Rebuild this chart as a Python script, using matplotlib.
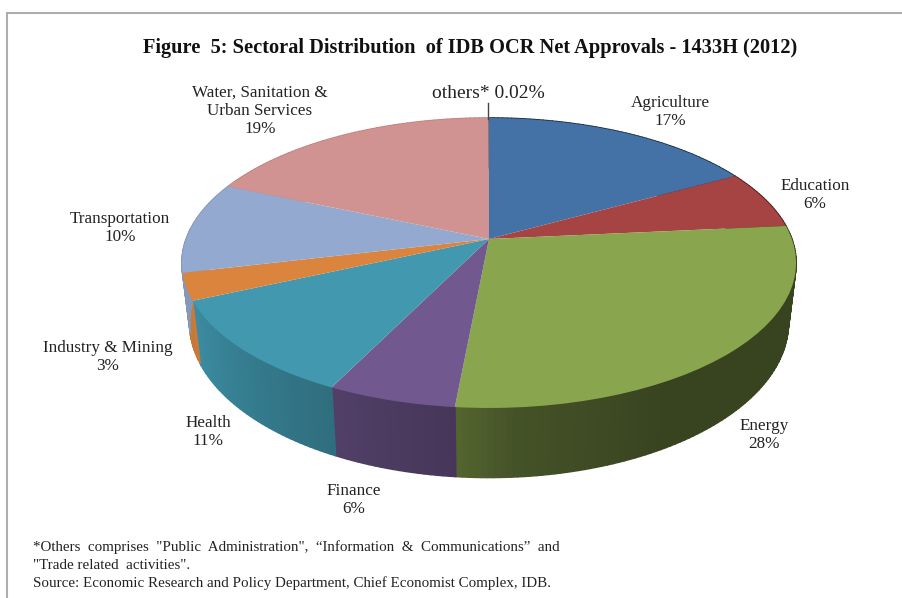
import numpy as np
import matplotlib
matplotlib.use("Agg")
import matplotlib.pyplot as plt
from matplotlib.transforms import Transform
from matplotlib.collections import PolyCollection
from matplotlib.colors import to_rgb

plt.rcParams['font.family'] = ['Liberation Serif', 'DejaVu Serif']

sectors = ["Agriculture", "Education", "Energy", "Finance", "Health",
           "Industry & Mining", "Transportation", "Water, Sanitation &\nUrban Services", "others*"]
shares = [17.0, 6.5, 28.0, 5.8, 11.0, 3.0, 10.2, 18.48, 0.02]
share_labels = ["17%", "6%", "28%", "6%", "11%", "3%", "10%", "19%", "0.02%"]
colors = ["#4472a6", "#a54442", "#89a54e", "#71588f", "#4198af",
          "#db843d", "#93a9cf", "#d19392", "#555555"]
title = "Figure  5: Sectoral Distribution  of IDB OCR Net Approvals - 1433H (2012)"
notes = ["*Others  comprises  \"Public  Administration\",  “Information  &  Communications”  and",
         "\"Trade related  activities\".",
         "Source: Economic Research and Policy Department, Chief Economist Complex, IDB."]

# projection of the unit pie circle to pixel space
CX, CY, A, B, K, DEPTH, SHRINK = 489.0, 239.0, 302.8, 141.0, 0.1655, 58.0, 0.975


def project(u, v, drop=0.0):
    w = 1 + K * v
    scale = 1 - (1 - SHRINK) * drop
    return CX + scale * A * u / w, CY - B * v / w + drop * DEPTH / w


class Perspective(Transform):
    input_dims = 2
    output_dims = 2
    is_separable = False
    has_inverse = False

    def transform_non_affine(self, values):
        x, y = project(values[:, 0], values[:, 1])
        return np.column_stack([x, y])


fig = plt.figure(figsize=(9.02, 5.98), dpi=100, facecolor="white")
ax = fig.add_axes([0, 0, 1, 1])

wedges, _ = ax.pie(shares, startangle=90, counterclock=False, colors=colors,
                   radius=1, wedgeprops=dict(linewidth=0))
ax.set_aspect("auto")
ax.set_xlim(0, 902)
ax.set_ylim(598, 0)
ax.axis("off")
persp = Perspective() + ax.transData
for wd in wedges:
    wd.set_transform(persp)
    wd.set_zorder(3)


def shade(theta):
    return np.interp(theta, [0, 150, 176, 186, 206, 246, 260, 360],
                     [.41, .41, .50, .62, .72, .92, .90, .90])


edges = np.concatenate([[0], np.cumsum(shares)]) / np.sum(shares) * 360
polys, fc = [], []
for i, col in enumerate(colors):
    n = max(2, int((edges[i + 1] - edges[i]) / 1.0) + 1)
    th = np.linspace(edges[i], edges[i + 1], n)
    u, v = np.sin(np.radians(th)), np.cos(np.radians(th))
    xt, yt = project(u, v)
    xb, yb = project(u, v, 1.0)
    rgb = np.array(to_rgb(col))
    for j in range(n - 1):
        polys.append([(xt[j], yt[j]), (xt[j + 1], yt[j + 1]), (xb[j + 1], yb[j + 1]), (xb[j], yb[j])])
        fc.append(tuple(rgb * shade((th[j] + th[j + 1]) / 2)))
ax.add_collection(PolyCollection(polys, facecolors=fc, edgecolors=fc, linewidths=1.2, zorder=2))

# frame
ax.plot([7, 7, 902], [598, 12.5, 12.5], color="#adadad", lw=1.5, zorder=1, solid_joinstyle="miter")

# leader line for the smallest slice
ax.plot([488, 488], [103, 119], color="#444444", lw=1.0, zorder=4)

ax.text(470, 48, title, ha="center", va="center", fontsize=14.7, fontweight="bold", color="#111111")

positions = [(670, 112), (815, 195), (764, 435), (354, 500), (208, 432),
             (108, 357), (120, 228), (260, 111)]
for s, p, xy in zip(sectors[:-1], share_labels[:-1], positions):
    ax.text(xy[0], xy[1], f"{s}\n{p}", ha="center", va="center", fontsize=12.3,
            linespacing=1.19, color="#222222")
ax.text(488, 93, f"{sectors[-1]} {share_labels[-1]}", ha="center", va="center",
        fontsize=14.0, color="#222222")

for y, line in zip([547.5, 565.5, 583.5], notes):
    ax.text(33, y, line, ha="left", va="center", fontsize=10.8, color="#222222")

fig.savefig("out.png", dpi=100)
